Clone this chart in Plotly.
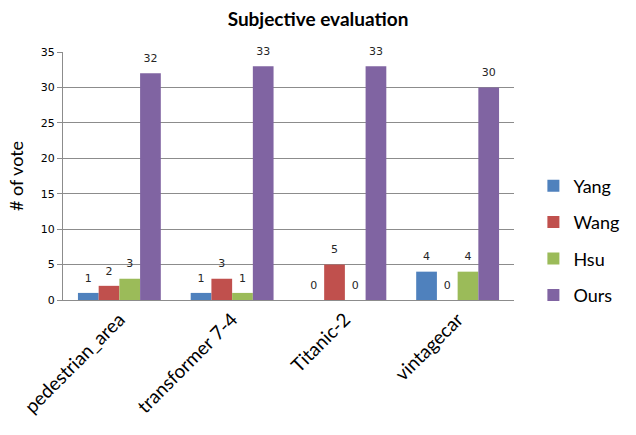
import plotly.graph_objects as go

# Videos compared in the user study
categories = ["pedestrian_area", "transformer 7-4", "Titanic-2", "vintagecar"]

# Number of votes per method
yang = [1, 1, 0, 4]
wang = [2, 3, 5, 0]
hsu = [3, 1, 0, 4]
ours = [32, 33, 33, 30]

series = [
    ("Yang", yang, "#4F81BD"),
    ("Wang", wang, "#C0504D"),
    ("Hsu", hsu, "#9BBB59"),
    ("Ours", ours, "#8064A2"),
]

fig = go.Figure()
for name, vals, color in series:
    fig.add_trace(go.Bar(
        name=name,
        x=categories,
        y=vals,
        marker=dict(color=color, line=dict(width=0)),
        offsetgroup=name,
        legendgroup=name,
    ))
    # value labels sitting above each bar
    fig.add_trace(go.Scatter(
        x=categories,
        y=vals,
        mode="markers+text",
        marker=dict(size=12, opacity=0),
        text=[str(v) for v in vals],
        textposition="top center",
        textfont=dict(family="DejaVu Sans", size=11, color="#262626"),
        offsetgroup=name,
        legendgroup=name,
        showlegend=False,
        hoverinfo="skip",
        cliponaxis=False,
    ))

fig.update_layout(
    width=636,
    height=435,
    barmode="group",
    bargap=0.265,
    bargroupgap=0,
    scattermode="group",
    scattergap=0.265,
    plot_bgcolor="white",
    paper_bgcolor="white",
    margin=dict(l=63, r=104, t=52, b=135),
    title=dict(
        text="<b>Subjective evaluation</b>",
        x=0.5, xanchor="center",
        y=1 - 19 / 435, yanchor="middle",
        font=dict(family="Lato", size=19, color="#000000"),
    ),
    legend=dict(
        x=1.043, xanchor="left",
        y=0.24, yanchor="middle",
        font=dict(family="Lato", size=18, color="#000000"),
        tracegroupgap=10,
        traceorder="grouped",
        itemwidth=30,
        bgcolor="rgba(0,0,0,0)",
    ),
    yaxis=dict(
        range=[0, 35],
        dtick=5,
        showgrid=True,
        gridcolor="#8C8C8C",
        gridwidth=1,
        showline=True,
        linecolor="#8C8C8C",
        ticks="outside",
        ticklen=5,
        tickcolor="#8C8C8C",
        tickfont=dict(family="DejaVu Sans", size=11, color="#000000"),
        title=dict(text="# of vote", font=dict(family="Lato", size=18, color="#000000"), standoff=12),
        zeroline=False,
    ),
    xaxis=dict(
        showline=True,
        linecolor="#8C8C8C",
        tickangle=-45,
        tickfont=dict(family="Lato", size=19, color="#000000"),
        ticks="",
    ),
)

fig.write_html("out.html")
